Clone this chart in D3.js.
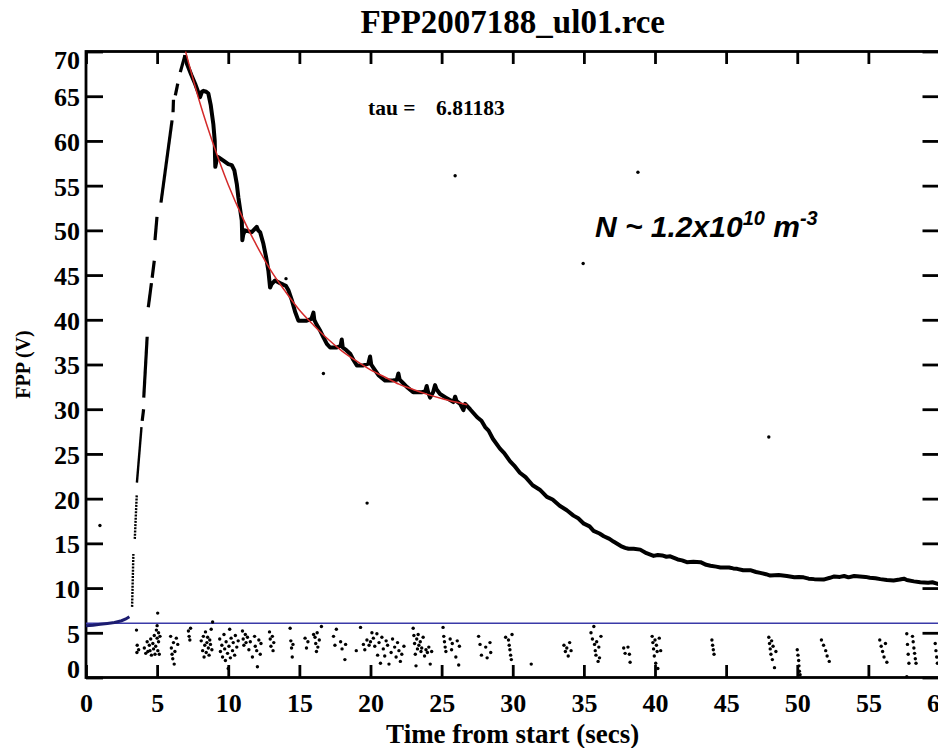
<!DOCTYPE html>
<html>
<head>
<meta charset="utf-8">
<script src="https://cdn.jsdelivr.net/npm/d3@7"></script>
<style>
  html, body { margin: 0; padding: 0; background: #fff; overflow: hidden; }
  svg { display: block; }
</style>
</head>
<body>
<svg id="chart" width="938" height="748"></svg>
<script>
// ---------- DATA ----------
const titleText = "FPP2007188_ul01.rce";
const xLabelText = "Time from start (secs)";
const yLabelText = "FPP (V)";
const xTicks = [0, 5, 10, 15, 20, 25, 30, 35, 40, 45, 50, 55, 60];
const yTicks = [0, 5, 10, 15, 20, 25, 30, 35, 40, 45, 50, 55, 60, 65, 70];
const tauLabel = "tau =";
const tauValue = "6.81183";
const thresholdLevel = 6.07;

// pre-event baseline trace (navy)
const startTrace = [[0,5.8],[0.5,5.85],[1,5.95],[1.5,6.05],[2,6.15],[2.5,6.35],[2.8,6.55],[3.05,6.8]];

// fast rise, recorded as separate dashes
const riseSegments = [
  [[3.24,7.9],[3.33,13.8]],
  [[3.43,15.5],[3.57,20.5]],
  [[3.58,21.8],[3.9,28.0]],
  [[3.95,28.7],[4.05,30.0]],
  [[4.06,31.3],[4.3,38.1]],
  [[4.38,41.4],[4.6,44.1]],
  [[4.65,44.7],[4.8,46.6]],
  [[4.85,48.9],[4.99,51.5]],
  [[5.27,53.1],[6.05,62.3]],
  [[6.12,63.2],[6.15,64.6]],
  [[6.28,65.1],[6.45,66.4]],
  [[6.63,67.7],[6.96,69.6]]
];

// main decay trace
const mainTrace = [
  [6.96,69.6],[7.1,68.6],[7.4,67.4],[7.67,66.4],[8.02,64.9],[8.15,65.5],[8.25,65.6],[8.45,65.5],[8.6,65.3],
  [8.77,64.0],[8.95,61.9],[9.05,60.0],[9.07,58.2],[9.09,57.1],[9.2,58.0],[9.3,58.2],[9.66,57.8],[10.0,57.4],
  [10.25,57.3],[10.43,56.7],[10.6,55.2],[10.71,53.7],[10.95,51.1],[10.99,48.9],[11.05,49.5],[11.18,50.0],
  [11.65,49.8],[12.0,50.4],[12.1,50.0],[12.24,49.8],[12.47,48.5],[12.66,47.0],[12.82,45.5],[12.94,43.6],
  [13.05,44.0],[13.29,44.4],[13.64,44.1],[13.9,43.9],[14.05,43.8],[14.23,43.3],[14.47,42.2],[14.7,40.9],
  [14.93,39.9],[15.2,39.9],[15.52,39.9],[15.85,40.1],[15.99,40.8],[16.05,40.0],[16.2,39.5],[16.46,38.8],
  [16.7,38.0],[16.93,37.3],[17.16,36.9],[17.63,36.9],[17.9,37.1],[17.98,37.8],[18.05,36.9],[18.3,36.6],
  [18.57,36.2],[18.8,35.5],[19.04,34.9],[19.5,34.9],[19.85,35.1],[19.97,35.9],[20.05,35.0],[20.3,34.4],
  [20.56,33.8],[21.03,33.2],[21.5,33.2],[21.85,33.3],[21.96,34.0],[22.05,33.3],[22.3,32.9],[22.55,32.5],
  [23.0,31.9],[23.6,31.9],[23.85,32.0],[23.95,32.6],[24.05,31.9],[24.19,31.3],[24.4,31.9],[24.54,32.7],
  [24.65,32.2],[24.89,31.7],[25.3,31.3],[25.83,30.8],[25.95,31.4],[26.05,30.9],[26.3,30.6],[26.53,29.9],
  [26.65,30.6],[27.0,30.0],[27.5,29.1],[27.8,28.7],[28.06,28.0],[28.3,27.6],[28.6,26.7],[29.1,25.6],[29.4,25.1],
  [29.8,24.2],[30.1,23.7],[30.5,22.9],[30.9,22.4],[31.4,21.5],[31.9,21.0],[32.4,20.2],[32.8,19.9],[33.3,19.2],
  [33.8,18.7],[34.27,18.1],[34.6,17.8],[35.0,17.2],[35.4,16.9],[35.68,16.4],[36.1,16.1],[36.4,15.8],[36.8,15.5],
  [37.08,15.2],[37.6,14.7],[37.9,14.5],[38.14,14.4],[38.5,14.4],[38.96,14.3],[39.4,13.9],[39.9,13.6],[40.2,13.7],
  [40.5,13.65],[40.8,13.5],[41.07,13.55],[41.6,13.2],[41.9,13.1],[42.24,12.9],[42.7,12.95],[43.2,12.9],[43.6,12.6],
  [43.9,12.5],[44.3,12.4],[44.6,12.3],[45.2,12.3],[45.5,12.2],[45.77,12.15],[46.2,12.0],[46.7,12.0],[47.1,11.8],
  [47.4,11.7],[47.8,11.55],[48.1,11.4],[48.7,11.45],[49.27,11.35],[49.8,11.2],[50.1,11.25],[50.44,11.2],
  [50.8,11.05],[51.2,11.0],[51.85,10.95],[52.3,11.15],[52.6,11.3],[53.0,11.25],[53.3,11.35],[53.6,11.2],
  [54.0,11.35],[54.4,11.3],[54.8,11.25],[55.1,11.15],[55.5,11.1],[55.84,11.0],[56.3,10.9],[56.77,10.85],
  [57.2,10.95],[57.5,11.05],[57.7,10.9],[58.2,10.75],[58.65,10.65],[59.2,10.6],[59.5,10.65],[59.82,10.5],[60,10.4]
];

// exponential fit
const fitTrace = [
  [7,70.0],[8,64.3],[9,59.4],[10,55.1],[11,51.45],[12,48.3],[13,45.5],[14,43.2],[15,41.1],[16,39.4],
  [17,37.85],[18,36.5],[19,35.4],[20,34.4],[21,33.6],[22,32.8],[23,32.2],[24,31.66],[25,31.2],[26,30.8],[26.8,30.5]
];

// isolated outlier samples
const outliers = [[0.98,17.0],[14.06,44.6],[16.69,34.0],[19.76,19.5],[25.95,56.1],[34.95,46.3],[38.8,56.5],[48.0,26.9]];

// low-level noise samples below the threshold
const noisePoints = [
  [3.55,5.3],[3.6,3.6],[3.58,2.8],[3.7,3.1],
  [4.1,3.3],[4.2,2.7],[4.3,4.0],[4.35,2.9],[4.45,3.6],[4.5,3.0],[4.55,4.3],[4.6,2.5],[4.7,3.8],[4.75,3.2],
  [4.8,4.7],[4.85,2.6],[4.9,3.5],[4.95,5.3],[5.0,4.4],[5.0,5.8],[5.05,3.0],[5.1,4.0],[5.1,5.0],[5.15,2.6],[5.2,4.6],[5.04,7.2],
  [5.95,4.6],[6.0,3.3],[6.05,2.6],[6.1,2.1],[6.15,3.9],[6.2,1.5],[6.25,2.9],[6.35,4.4],[6.45,3.7],
  [7.2,5.2],[7.25,4.6],[7.3,4.2],[7.35,5.5],
  [8.1,4.1],[8.2,3.0],[8.25,4.6],[8.3,2.3],[8.35,3.6],[8.4,5.1],[8.45,2.8],[8.5,3.9],[8.55,4.5],[8.6,3.3],
  [8.65,2.5],[8.7,4.2],[8.75,3.7],[8.8,5.4],[8.85,3.1],[8.9,6.2],
  [9.4,4.3],[9.45,2.9],[9.55,3.6],[9.6,2.3],[9.7,4.8],[9.75,3.2],[9.8,1.9],[9.85,4.0],[9.95,2.7],[10.0,1.0],
  [10.05,3.5],[10.1,5.4],[10.15,2.2],[10.2,4.4],[10.3,3.0],[10.35,3.9],[10.45,2.5],[10.5,4.7],[10.6,3.4],[10.7,4.1],
  [11.0,5.2],[11.05,4.3],[11.1,3.6],[11.2,4.8],[11.25,3.9],[11.35,4.5],[11.45,3.1],[11.55,4.0],[11.7,2.3],
  [11.85,4.6],[11.9,3.5],[12.0,3.0],[12.05,1.2],[12.15,4.2],[12.25,2.6],[12.3,3.8],
  [12.9,5.1],[12.95,4.3],[13.0,3.5],[13.1,4.6],[13.15,3.0],[13.2,3.9],
  [14.35,5.5],[14.4,4.1],[14.45,3.3],[14.5,2.3],[14.55,3.7],
  [15.4,4.4],[15.5,3.3],[15.6,4.0],[16.0,4.8],[16.1,4.5],[16.15,3.8],[16.2,2.9],[16.25,5.0],[16.3,3.4],[16.4,4.2],[16.55,5.7],
  [17.4,4.6],[17.5,3.6],[17.6,5.4],[17.9,4.0],[18.0,3.2],[18.2,2.0],[18.25,3.7],
  [19.0,3.0],[19.3,5.6],[19.5,3.7],[19.6,3.1],[19.75,4.2],[19.9,3.6],[20.0,4.0],[20.1,5.0],[20.2,4.4],
  [20.3,3.5],[20.45,4.9],[20.5,2.5],[20.6,3.9],[20.7,1.6],[20.8,4.5],[20.9,3.2],[21.0,2.4],[21.1,4.1],
  [21.2,3.6],[21.3,1.5],[21.45,2.8],[21.55,4.3],[21.7,3.4],[21.8,2.3],[21.9,3.9],[22.0,3.0],[22.1,1.8],[22.2,2.6],[22.35,3.5],
  [23.0,5.5],[23.05,4.7],[23.1,3.8],[23.15,2.6],[23.2,1.3],[23.25,4.3],[23.3,3.2],[23.35,4.8],[23.4,3.6],
  [23.5,4.0],[23.55,2.9],[23.6,3.3],[23.7,4.5],[23.8,2.4],[23.9,3.1],[24.0,2.8],[24.1,3.4],[24.2,1.5],[24.3,2.9],
  [25.1,5.6],[25.15,4.6],[25.2,4.0],[25.25,3.4],[25.3,2.9],[25.6,4.3],[25.7,3.1],[25.75,3.8],[26.0,2.3],[26.1,4.1],[26.2,1.4],[26.25,3.5],
  [27.6,4.6],[27.7,3.7],[27.8,2.5],[28.1,3.4],[28.2,2.2],[28.4,3.9],[28.45,2.8],
  [29.5,4.5],[29.7,4.2],[29.75,3.6],[29.8,3.1],[29.85,2.5],[29.9,2.0],[29.95,4.8],
  [31.3,1.5],
  [33.6,3.6],[33.7,2.9],[33.8,3.3],[33.9,2.4],[34.0,3.9],[34.1,3.0],
  [35.5,5.0],[35.6,4.3],[35.7,5.7],[35.75,3.7],[35.8,3.0],[35.85,2.5],[35.9,4.0],[36.0,1.8],[36.05,3.4],[36.1,2.2],[36.2,4.6],
  [37.8,3.3],[37.9,2.7],[38.1,3.4],[38.2,2.6],[38.25,1.7],
  [39.8,4.6],[39.85,3.9],[39.9,3.2],[39.95,2.4],[40.0,4.2],[40.05,1.6],[40.1,3.6],[40.15,2.9],[40.2,1.0],[40.3,4.4],[40.4,3.0],
  [44.0,4.2],[44.05,3.6],[44.1,3.1],[44.15,2.6],
  [48.0,4.5],[48.05,3.8],[48.1,3.2],[48.15,2.6],[48.2,4.1],[48.25,2.0],[48.3,3.5],[48.4,1.1],[48.5,2.9],
  [50.0,3.1],[50.05,2.5],[50.1,1.9],[50.12,1.3],[50.15,0.7],[50.2,0.3],
  [51.7,4.2],[51.85,3.6],[52.0,3.0],[52.1,2.4],[52.25,1.8],
  [55.8,4.2],[55.9,3.5],[56.0,2.9],[56.1,2.3],[56.2,3.8],[56.3,1.7],
  [57.7,4.9],[57.75,3.7],[57.8,2.6],[57.85,1.6],[58.1,4.6],[58.15,4.0],[58.2,3.3],[58.25,2.7],[58.3,2.1],[58.35,1.6],[57.7,0.1],
  [59.7,3.8],[59.75,3.0],[59.8,2.3],[59.85,1.6]
];

// ---------- CHART ----------
const svg = d3.select("#chart");
const serif = "'Liberation Serif', 'Times New Roman', serif";
const x = d3.scaleLinear().domain([0, 60]).range([86, 939.5]);
const y = d3.scaleLinear().domain([0, 70]).range([677.5, 51.5]);
const line = d3.line().x(d => x(d[0])).y(d => y(d[1]));

// title
svg.append("text").attr("x", 512.7).attr("y", 33).attr("text-anchor", "middle").attr("fill", "#000")
  .attr("font-family", serif).attr("font-weight", "bold").attr("font-size", 33).text(titleText);

// axes
const gB = svg.append("g").attr("transform", `translate(0,${y(0)})`)
  .call(d3.axisBottom(x).tickValues(xTicks).tickSize(-12.5).tickSizeOuter(0).tickPadding(16));
const gT = svg.append("g").attr("transform", `translate(0,${y(70)})`)
  .call(d3.axisTop(x).tickValues(xTicks).tickSize(-12.5).tickSizeOuter(0).tickFormat(""));
const gL = svg.append("g").attr("transform", `translate(${x(0)},0)`)
  .call(d3.axisLeft(y).tickValues(yTicks).tickSize(-17).tickSizeOuter(0).tickPadding(6));
const gR = svg.append("g").attr("transform", `translate(${x(60)},0)`)
  .call(d3.axisRight(y).tickValues(yTicks).tickSize(-17).tickSizeOuter(0).tickFormat(""));
[gB, gT, gL, gR].forEach(g => {
  g.select(".domain").remove();
  g.selectAll(".tick line").attr("stroke", "#000").attr("stroke-width", 2.8);
  g.selectAll(".tick text").attr("fill", "#000").attr("font-family", serif)
    .attr("font-weight", "bold").attr("font-size", 26);
});
gB.selectAll(".tick text").attr("dy", "0.71em");
gL.selectAll(".tick text").attr("dy", d => d === 70 ? "0.64em" : d === 0 ? "0em" : "0.36em");

svg.append("rect").attr("x", x(0)).attr("y", y(70)).attr("width", x(60) - x(0)).attr("height", y(0) - y(70))
  .attr("fill", "none").attr("stroke", "#000").attr("stroke-width", 2.8);

// axis titles
svg.append("text").attr("x", 512.7).attr("y", 743).attr("text-anchor", "middle").attr("fill", "#000")
  .attr("font-family", serif).attr("font-weight", "bold").attr("font-size", 27).text(xLabelText);
svg.append("text").attr("transform", `translate(30,${(y(0) + y(70)) / 2}) rotate(-90)`).attr("text-anchor", "middle")
  .attr("fill", "#000").attr("font-family", serif).attr("font-weight", "bold").attr("font-size", 20).text(yLabelText);

// threshold line
svg.append("line").attr("x1", x(0)).attr("x2", x(60)).attr("y1", y(thresholdLevel)).attr("y2", y(thresholdLevel))
  .attr("stroke", "#3a3aa8").attr("stroke-width", 1.6);

// noise and outliers
svg.append("g").selectAll("circle").data(noisePoints.concat(outliers)).join("circle")
  .attr("cx", d => x(d[0])).attr("cy", d => y(d[1])).attr("r", 1.7).attr("fill", "#000");

// start trace
svg.append("path").datum(startTrace).attr("d", line).attr("fill", "none")
  .attr("stroke", "#1c1c70").attr("stroke-width", 3);

// rise
svg.append("g").selectAll("path").data(riseSegments).join("path").attr("d", line).attr("fill", "none")
  .attr("stroke", "#000").attr("stroke-width", (d, i) => i < 3 ? 2.4 : 3.2)
  .attr("stroke-dasharray", (d, i) => i < 2 ? "2,1.2" : null);

// main trace
svg.append("path").datum(mainTrace).attr("d", line).attr("fill", "none")
  .attr("stroke", "#000").attr("stroke-width", 4).attr("stroke-linejoin", "round");

// fit
svg.append("path").datum(fitTrace).attr("d", d3.line().curve(d3.curveMonotoneX).x(d => x(d[0])).y(d => y(d[1])))
  .attr("fill", "none").attr("stroke", "#d42a2a").attr("stroke-width", 1.5);

// annotations
svg.append("text").attr("x", 368).attr("y", 115).attr("fill", "#000").attr("font-family", serif).attr("font-weight", "bold")
  .attr("font-size", 21.5).text(tauLabel);
svg.append("text").attr("x", 436).attr("y", 115).attr("fill", "#000").attr("font-family", serif).attr("font-weight", "bold")
  .attr("font-size", 21.5).text(tauValue);

const nText = svg.append("text").attr("x", 595).attr("y", 237).attr("fill", "#000")
  .attr("font-family", "'Liberation Sans', Arial, sans-serif").attr("font-weight", "bold")
  .attr("font-style", "italic").attr("font-size", 30);
nText.append("tspan").text("N ~ 1.2x10");
nText.append("tspan").attr("font-size", 20).attr("dy", -12).text("10");
nText.append("tspan").attr("dy", 12).text(" m");
nText.append("tspan").attr("font-size", 20).attr("dy", -12).text("-3");
</script>
</body>
</html>
